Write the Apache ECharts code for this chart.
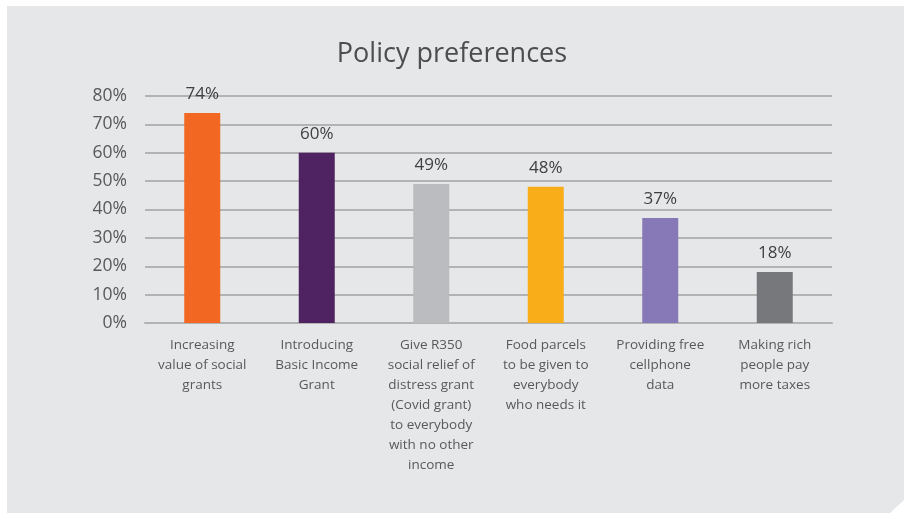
<!DOCTYPE html>
<html>
<head>
<meta charset="utf-8">
<script src="https://cdn.jsdelivr.net/npm/echarts@6/dist/echarts.min.js"></script>
<style>
  html, body { margin: 0; padding: 0; background: #fff; }
  #main { width: 904px; height: 515px; }
</style>
</head>
<body>
<div id="main"></div>
<script>
// 数据
var categories = [
  'Increasing\nvalue of social\ngrants',
  'Introducing\nBasic Income\nGrant',
  'Give R350\nsocial relief of\ndistress grant\n(Covid grant)\nto everybody\nwith no other\nincome',
  'Food parcels\nto be given to\neverybody\nwho needs it',
  'Providing free\ncellphone\ndata',
  'Making rich\npeople pay\nmore taxes'
];
var values = [74, 60, 49, 48, 37, 18];
var barColors = ['#F26722', '#4F2262', '#BBBCBF', '#F9AE19', '#8779B7', '#77787B'];

var myChart = echarts.init(document.getElementById('main'));
var font = 'Open Sans';

var option = {
  backgroundColor: '#fff',
  textStyle: { fontFamily: font },
  graphic: [{
    type: 'polygon',
    z: -10,
    silent: true,
    shape: { points: [[7, 6], [904, 6], [904, 500], [890, 513], [7, 513]] },
    style: { fill: '#E6E7E8' }
  }],
  title: {
    text: 'Policy preferences',
    left: 'center',
    top: 36,
    textStyle: { fontFamily: font, fontSize: 27, fontWeight: 'normal', color: '#4D4D4F' }
  },
  grid: { left: 145, right: 72, top: 96, bottom: 192 },
  xAxis: {
    type: 'category',
    data: categories,
    axisLine: { show: true, lineStyle: { color: '#B3B3B3', width: 2 } },
    axisTick: { show: false },
    axisLabel: {
      interval: 0,
      margin: 12,
      fontFamily: font,
      fontSize: 13.5,
      lineHeight: 20,
      color: '#58595B'
    }
  },
  yAxis: {
    type: 'value',
    min: 0,
    max: 80,
    interval: 10,
    axisLine: { show: false },
    axisTick: { show: false },
    axisLabel: {
      formatter: '{value}%',
      margin: 18,
      fontFamily: font,
      fontSize: 17.5,
      color: '#58595B'
    },
    splitLine: { lineStyle: { color: '#B3B3B3', width: 2 } }
  },
  series: [{
    type: 'bar',
    data: values.map(function (v, i) {
      return { value: v, itemStyle: { color: barColors[i] } };
    }),
    barWidth: 36,
    label: {
      show: true,
      position: 'top',
      distance: 10,
      formatter: '{c}%',
      fontFamily: font,
      fontSize: 17,
      color: '#404041'
    }
  }]
};
myChart.setOption(option);
</script>
</body>
</html>
